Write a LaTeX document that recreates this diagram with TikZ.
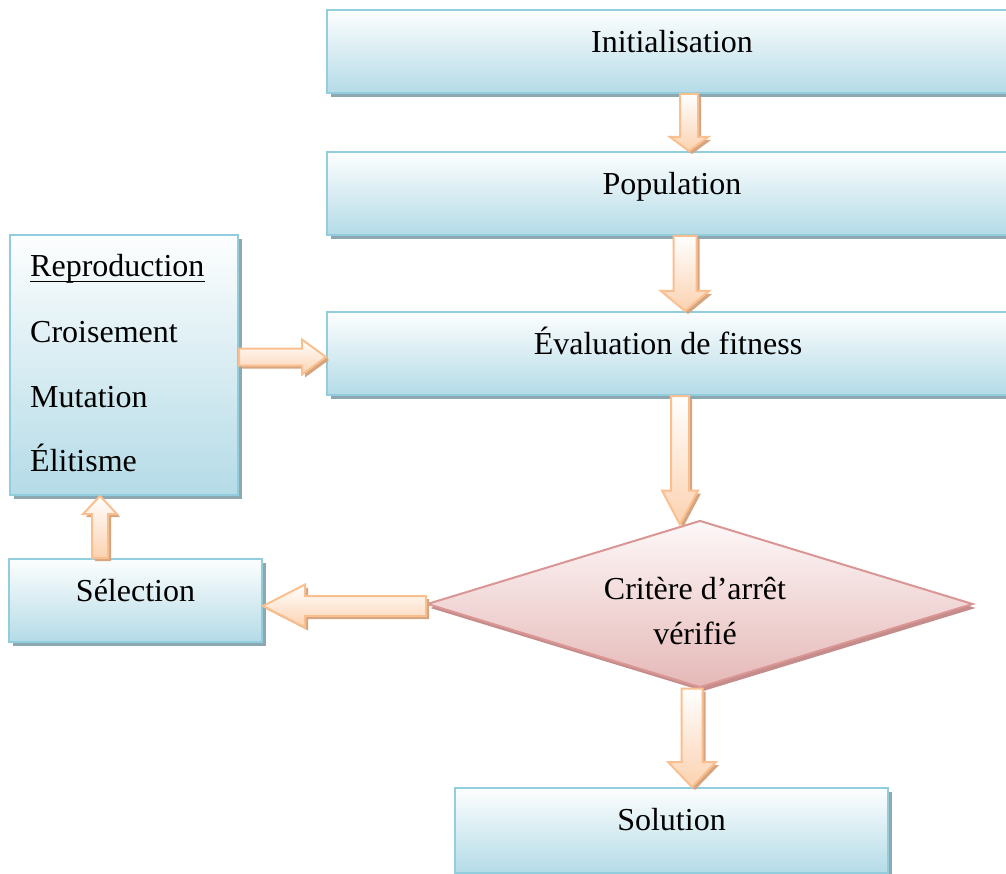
\documentclass[tikz,border=0pt]{standalone}
\usepackage{fontspec}
\setmainfont{Liberation Serif}
\usetikzlibrary{shapes.geometric,shadows,calc}

% palette
\definecolor{boxtop}{RGB}{253,254,254}
\definecolor{boxbot}{RGB}{180,219,231}
\definecolor{boxline}{RGB}{146,205,221}
\definecolor{boxshade}{RGB}{141,168,176}
\definecolor{arrbot}{RGB}{251,210,176}
\definecolor{arrline}{RGB}{250,191,143}
\definecolor{arrshade}{RGB}{214,164,126}
\definecolor{dectop}{RGB}{253,248,248}
\definecolor{decbot}{RGB}{229,184,183}
\definecolor{decline}{RGB}{217,150,148}
\definecolor{decshade}{RGB}{196,140,138}

\tikzset{
  stepbox/.style={rectangle, draw=boxline, line width=2pt,
    top color=boxtop, bottom color=boxbot, inner sep=0pt,
    drop shadow={shadow xshift=4pt, shadow yshift=-4pt, fill=boxshade, opacity=1}},
  decision/.style={diamond, draw=decline, line width=2pt,
    top color=dectop, bottom color=decbot, inner sep=0pt,
    drop shadow={shadow xshift=3pt, shadow yshift=-4pt, fill=decshade, opacity=1}},
  blockarrow/.style={draw=arrline, line width=2pt, line join=miter,
    top color=white, bottom color=arrbot,
    drop shadow={shadow xshift=3pt, shadow yshift=-3pt, fill=arrshade, opacity=1}},
  steptext/.style={inner sep=0pt, font=\fontsize{32}{45}\selectfont},
}

% block arrow from #1 to tip #2: shaft half width #3, head half width #4, head length #5
\newcommand\blockarr[5]{%
  \coordinate (hb) at ($(#2)!#5pt!(#1)$);
  \path[blockarrow]
    ($(#1)!#3pt!90:(#2)$) -- ($(hb)!#3pt!90:(#2)$) -- ($(hb)!#4pt!90:(#2)$) --
    (#2) --
    ($(hb)!#4pt!-90:(#2)$) -- ($(hb)!#3pt!-90:(#2)$) -- ($(#1)!#3pt!-90:(#2)$) -- cycle;}

\begin{document}
\begin{tikzpicture}[x=1pt, y=-1pt]
  \useasboundingbox (0,0) rectangle (1006,874);

  % process boxes
  \node[stepbox, minimum width=690pt, minimum height=83pt] (init) at (672,51.5) {};
  \node[stepbox, minimum width=690pt, minimum height=83pt] (pop)  at (672,193.5) {};
  \node[stepbox, minimum width=690pt, minimum height=83pt] (eval) at (672,353.5) {};
  \node[stepbox, minimum width=228.5pt, minimum height=259.5pt] (rep) at (123.75,365.25) {};
  \node[stepbox, minimum width=253pt, minimum height=83pt] (sel) at (135.5,600.5) {};
  \node[stepbox, minimum width=433pt, minimum height=85pt] (sol) at (671.5,830.5) {};

  % stopping test
  \node[decision, minimum width=546pt, minimum height=167pt] (crit) at (700,604) {};

  % labels
  \node[steptext, anchor=base] (initT) at ($(init.north)+(0,44)$) {Initialisation};
  \node[steptext, anchor=base] (popT)  at ($(pop.north)+(0,44)$) {Population};
  \node[steptext, anchor=base] (evalT) at ($(eval.north)+(-4,44)$) {Évaluation de fitness};
  \node[steptext, anchor=base] (selT)  at ($(sel.north)+(0,43)$) {Sélection};
  \node[steptext, anchor=base] (solT)  at ($(sol.north)+(0,43)$) {Solution};
  \node[steptext, align=center] (critT) at (695,611) {Critère d’arrêt\\vérifié};

  \node[steptext, anchor=base west] (repA) at ($(rep.north west)+(21.5,42)$) {Reproduction};
  \draw[line width=1.8pt] ($(repA.base west)+(0,5)$) -- ($(repA.base east)+(0,5)$);
  \node[steptext, anchor=base west] (repB) at ($(rep.north west)+(21.5,108.5)$) {Croisement};
  \node[steptext, anchor=base west] (repC) at ($(rep.north west)+(21.5,173)$) {Mutation};
  \node[steptext, anchor=base west] (repD) at ($(rep.north west)+(21.5,237)$) {Élitisme};

  % arrow axes
  \coordinate (c1) at (689,0);
  \coordinate (c2) at (685,0);
  \coordinate (c3) at (680,0);
  \coordinate (c4) at (0,606);
  \coordinate (c5) at (100,0);
  \coordinate (c6) at (0,357);
  \coordinate (c7) at (692,0);

  \coordinate (s1) at (c1 |- init.south);  \coordinate (t1) at (c1 |- pop.north);
  \coordinate (s2) at (c2 |- pop.south);   \coordinate (t2) at (c2 |- eval.north);
  \coordinate (s3) at (c3 |- eval.south);  \coordinate (t3) at ($(c3 |- crit.north)+(0,5)$);
  \coordinate (s4) at (crit.west |- c4);   \coordinate (t4) at (sel.east |- c4);
  \coordinate (s5) at (c5 |- sel.north);   \coordinate (t5) at (c5 |- rep.south);
  \coordinate (s6) at (rep.east |- c6);    \coordinate (t6) at (eval.west |- c6);
  \coordinate (s7) at (c7 |- crit.south);  \coordinate (t7) at (c7 |- sol.north);

  % connectors
  \blockarr{s1}{t1}{9}{19}{14}
  \blockarr{s2}{t2}{11.5}{24}{20}
  \blockarr{s3}{t3}{9}{18}{34}
  \blockarr{s4}{t4}{10}{21.5}{42}
  \blockarr{s5}{t5}{8}{17}{18}
  \blockarr{s6}{t6}{8.5}{17.5}{24}
  \blockarr{s7}{t7}{10.5}{24}{25}
\end{tikzpicture}
\end{document}
